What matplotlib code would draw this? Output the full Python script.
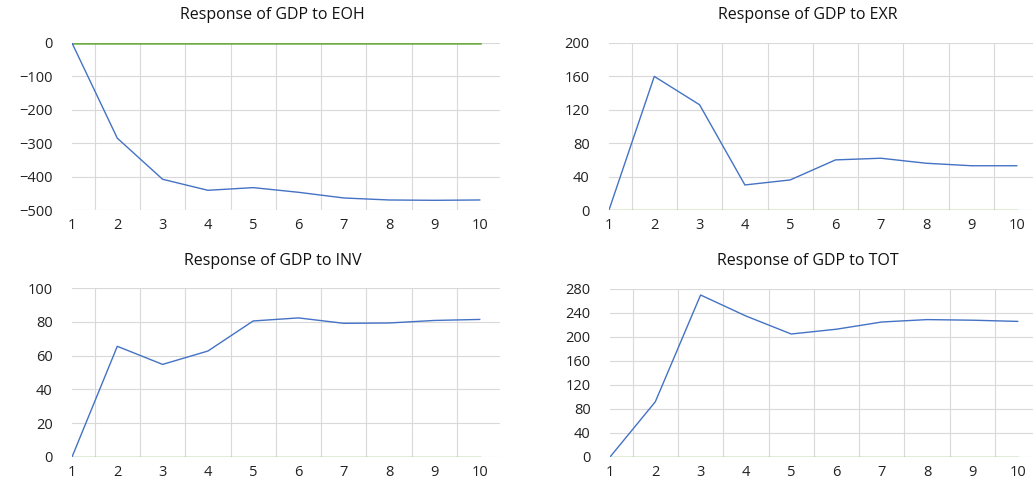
import numpy as np
import matplotlib
matplotlib.use("Agg")
import matplotlib.pyplot as plt

plt.rcParams['font.family'] = ['Open Sans', 'DejaVu Sans']

periods = list(range(1, 11))

titles = ["Response of GDP to EOH", "Response of GDP to EXR",
          "Response of GDP to INV", "Response of GDP to TOT"]

eoh = [0, -285, -408, -441, -433, -447, -464, -470, -471, -470]
exr = [0, 160, 126, 30, 36, 60, 62, 56, 53, 53]
inv = [0, 65.5, 54.8, 62.7, 80.5, 82.3, 79.1, 79.3, 80.8, 81.4]
tot = [0, 92, 270, 235, 205, 213, 225, 229, 228, 226]
zero_line = [0] * 10

yticks = {
    "EOH": [0, -100, -200, -300, -400, -500],
    "EXR": [0, 40, 80, 120, 160, 200],
    "INV": [0, 20, 40, 60, 80, 100],
    "TOT": [0, 40, 80, 120, 160, 200, 240, 280],
}

W, H = 1034, 482
BLUE = "#4472C4"
GREEN = "#70AD47"
GRID = "#D9D9D9"

fig = plt.figure(figsize=(W / 100, H / 100), dpi=100)


def px_axes(left, top, right, bottom):
    return fig.add_axes([left / W, 1 - bottom / H, (right - left) / W, (bottom - top) / H])


# (left, top, right, bottom) in pixels, plus data and ticks
panels = [
    ((72, 43, 500, 210), eoh, yticks["EOH"], titles[0], 15),
    ((609, 43, 1033, 210), exr, yticks["EXR"], titles[1], 15),
    ((72, 288, 500, 457), inv, yticks["INV"], titles[2], 261),
    ((610, 289, 1033, 457), tot, yticks["TOT"], titles[3], 261),
]

for (l, t, r, b), vals, yt, title, ty in panels:
    ax = px_axes(l, t, r, b)
    ax.set_xlim(1, 1 + (r - l) / 45.3)
    ax.set_ylim(min(yt), max(yt))
    ax.set_yticks(yt)
    ax.set_xticks(periods)
    # vertical gridlines sit between categories
    for g in np.arange(1.5, 10, 1.0):
        ax.axvline(g, color=GRID, lw=0.8, zorder=0)
    for v in yt:
        ax.axhline(v, color=GRID, lw=0.8, zorder=0)
    lw_zero = 1.8 if min(yt) < 0 else 1.0
    ax.plot(periods, zero_line, color=GREEN, lw=lw_zero, zorder=2)
    ax.plot(periods, vals, color=BLUE, lw=1.0, zorder=3)
    for s in ax.spines.values():
        s.set_visible(False)
    ax.tick_params(length=0, labelsize=10.5, colors="#222222", pad=6)
    ax.tick_params(axis="y", pad=14)
    fig.text((l + r) / 2 / W - 0.013, 1 - ty / H, title, ha="center", va="center",
             fontsize=11.5, color="#111111")

fig.savefig("out.png", dpi=100)
